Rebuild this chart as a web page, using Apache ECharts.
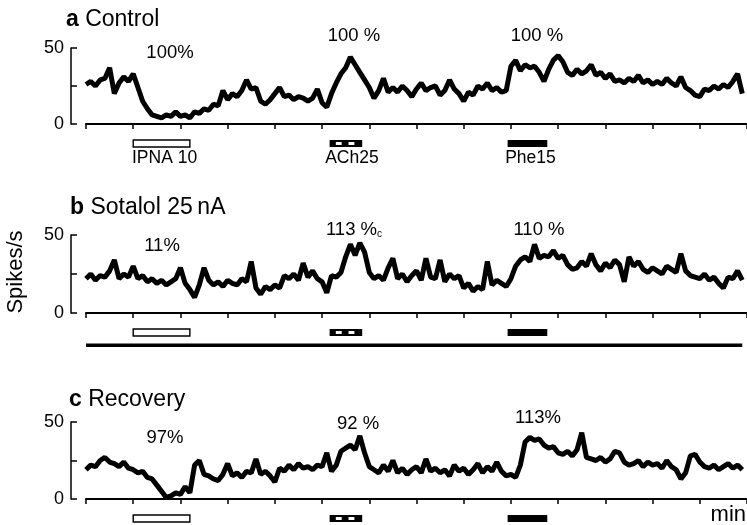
<!DOCTYPE html>
<html>
<head>
<meta charset="utf-8">
<title>Spike rate traces</title>
<script src="https://cdn.jsdelivr.net/npm/echarts@6/dist/echarts.min.js"></script>
<style>
  html, body { margin: 0; padding: 0; background: #fff; }
  #chart { width: 747px; height: 525px; }
</style>
</head>
<body>
<div id="chart"></div>
<script>
// firing rate in spikes/s, one reading every 0.1 min (t = 0 ... 13.9)
const step = 0.1;
const rateControl = [
  26, 28, 25, 29, 30, 37, 20, 27, 31, 28,
  33, 24, 15, 10, 6, 5, 4, 6, 5, 8,
  5, 6, 4, 8, 7, 10, 9, 13, 12, 22,
  16, 20, 18, 22, 29, 23, 24, 15, 13, 16,
  20, 24, 18, 19, 16, 18, 17, 15, 17, 23,
  14, 11, 20, 27, 33, 37, 44, 39, 34, 29,
  24, 17, 22, 30, 21, 24, 21, 25, 22, 18,
  23, 27, 22, 24, 25, 19, 22, 29, 23, 20,
  15, 21, 19, 25, 23, 27, 22, 24, 21, 22,
  38, 42, 35, 39, 37, 38, 34, 28, 36, 42,
  45, 41, 34, 32, 36, 33, 35, 39, 32, 34,
  30, 33, 28, 29, 27, 30, 28, 32, 27, 29,
  26, 28, 26, 30, 27, 25, 31, 24, 22, 19,
  18, 23, 22, 25, 23, 26, 24, 28, 33, 20
];
const rateSotalol = [
  22, 25, 21, 24, 23, 27, 34, 22, 25, 23,
  30, 22, 24, 20, 22, 19, 21, 18, 20, 22,
  29, 19, 15, 10, 18, 29, 21, 18, 20, 17,
  21, 19, 18, 22, 20, 33, 16, 12, 17, 15,
  18, 16, 24, 22, 25, 21, 32, 23, 27, 22,
  20, 13, 24, 23, 26, 36, 44, 37, 45, 39,
  26, 22, 24, 21, 29, 35, 22, 25, 20, 24,
  27, 21, 35, 23, 22, 34, 20, 25, 22, 24,
  16, 19, 14, 17, 15, 33, 18, 21, 19, 17,
  22, 30, 34, 36, 33, 44, 35, 37, 36, 40,
  35, 37, 31, 28, 29, 33, 30, 38, 31, 27,
  32, 29, 34, 31, 20, 36, 30, 33, 28, 26,
  29, 27, 25, 30, 28, 26, 38, 27, 24, 23,
  22, 25, 21, 23, 19, 16, 23, 22, 27, 21
];
const rateRecovery = [
  19, 22, 21, 25, 27, 24, 23, 21, 24, 20,
  19, 17, 18, 14, 13, 9, 5, 1, 2, 4,
  3, 8, 4, 22, 25, 16, 15, 13, 12, 16,
  23, 15, 17, 14, 18, 17, 26, 16, 18, 15,
  11, 20, 18, 22, 19, 23, 20, 21, 19, 22,
  21, 30, 18, 22, 31, 33, 35, 32, 41, 30,
  21, 19, 17, 22, 18, 25, 17, 20, 16, 19,
  21, 17, 26, 18, 20, 17, 19, 15, 22, 18,
  20, 16, 19, 23, 17, 21, 18, 24, 18, 15,
  16, 14, 22, 37, 40, 38, 39, 35, 33, 34,
  30, 29, 31, 28, 32, 43, 27, 26, 25, 27,
  24, 26, 31, 30, 24, 22, 23, 25, 21, 24,
  22, 23, 20, 25, 21, 19, 13, 17, 28, 29,
  24, 21, 20, 22, 19, 21, 23, 20, 22, 19
];

// drug applications, in min
const drugNames = ['IPNA 10', 'ACh25', 'Phe15'];
const drugStart = [1.0, 5.16, 8.93];
const drugEnd = [2.2, 5.85, 9.77];
const sotalolSpan = [0, 13.9];

const panelLetters = ['a', 'b', 'c'];
const panelNames = ['Control', 'Sotalol 25\u2009nA', 'Recovery'];
const responseLabels = [
  ['100%', '100 %', '100 %'],
  ['11%', '113 %{s|c}', '110 %'],
  ['97%', '92 %', '113%']
];

const FONT = '"Liberation Sans", Arial, Helvetica, sans-serif';
const chart = echarts.init(document.getElementById('chart'));

const grids = [
  { left: 86, width: 666, top: 48, height: 76 },
  { left: 86, width: 666, top: 235, height: 78 },
  { left: 86, width: 666, top: 422, height: 77 }
];
const rates = [rateControl, rateSotalol, rateRecovery];
const toPairs = arr => arr.map((v, i) => [Math.round(i * step * 10) / 10, v]);
// small nudge of each drug label off its bar centre (px)
const labelShift = [3, 6, 3];

// drug bars hang under each x axis
function drugBars(withLabels) {
  return function (params, api) {
    const s = api.coord([api.value(0), 0]);
    const e = api.coord([api.value(1), 0]);
    const kind = api.value(2);
    const w = e[0] - s[0];
    const y = s[1] + 16, h = 7;
    const kids = [];
    if (kind === 3) {
      kids.push({ type: 'rect', shape: { x: s[0], y: s[1] + 30.5, width: w, height: 3.5 }, style: { fill: '#000' } });
      return { type: 'group', children: kids };
    }
    if (kind === 0) {
      kids.push({ type: 'rect', shape: { x: s[0], y: y, width: w, height: h }, style: { fill: '#fff', stroke: '#000', lineWidth: 1.4 } });
    } else {
      kids.push({ type: 'rect', shape: { x: s[0], y: y, width: w, height: h }, style: { fill: '#000' } });
      if (kind === 1) {
        [[0.19, 0.37], [0.58, 0.76]].forEach(f => {
          kids.push({ type: 'rect', shape: { x: s[0] + w * f[0], y: y + 2, width: w * (f[1] - f[0]), height: h - 4 }, style: { fill: '#fff' } });
        });
      }
    }
    if (withLabels) {
      kids.push({
        type: 'text',
        x: (s[0] + e[0]) / 2 + labelShift[kind], y: s[1] + 34,
        style: { text: drugNames[kind], fill: '#000', font: '17.5px ' + FONT, align: 'center', verticalAlign: 'middle' }
      });
    }
    return { type: 'group', children: kids };
  };
}

const series = [];
rates.forEach((arr, i) => {
  series.push({
    type: 'line', xAxisIndex: i, yAxisIndex: i,
    data: toPairs(arr),
    showSymbol: false, silent: true, clip: false,
    lineStyle: { color: '#000', width: 5, join: 'bevel' }
  });
  const bars = drugNames.map((n, k) => [drugStart[k], drugEnd[k], k]);
  if (i === 1) bars.push([sotalolSpan[0], sotalolSpan[1], 3]);
  series.push({
    type: 'custom', xAxisIndex: i, yAxisIndex: i,
    renderItem: drugBars(i === 0),
    encode: { x: [0, 1] },
    data: bars, silent: true
  });
});

// text layout
const titleCenters = [[66, 20], [70, 208], [69, 400]];
const responseCenters = [
  [[170, 53], [354, 36], [537, 36]],
  [[162, 246], [354, 230], [539, 230]],
  [[165, 438], [358, 424], [538, 418]]
];
const graphic = [];
panelLetters.forEach((l, i) => {
  graphic.push({
    type: 'text', x: titleCenters[i][0], y: titleCenters[i][1],
    style: {
      text: '{b|' + l + '} ' + panelNames[i],
      font: '23px ' + FONT, fill: '#000', align: 'left', verticalAlign: 'middle',
      rich: { b: { font: 'bold 23px ' + FONT, fill: '#000' } }
    }
  });
  responseLabels[i].forEach((t, k) => {
    graphic.push({
      type: 'text', x: responseCenters[i][k][0], y: responseCenters[i][k][1],
      style: {
        text: t, font: '18.5px ' + FONT, fill: '#000', align: 'center', verticalAlign: 'middle',
        rich: { s: { font: '10px ' + FONT, fill: '#000', verticalAlign: 'bottom', padding: [6, 0, 0, 0] } }
      }
    });
  });
});
graphic.push({
  type: 'text', x: 16, y: 272, rotation: Math.PI / 2,
  style: { text: 'Spikes/s', font: '22px ' + FONT, fill: '#000', align: 'center', verticalAlign: 'middle' }
});
graphic.push({
  type: 'text', x: 746, y: 515,
  style: { text: 'min', font: '22px ' + FONT, fill: '#000', align: 'right', verticalAlign: 'middle' }
});

chart.setOption({
  animation: false,
  backgroundColor: '#fff',
  grid: grids,
  xAxis: grids.map((g, i) => ({
    gridIndex: i, type: 'value', min: 0, max: 14, interval: 1,
    axisLine: { onZero: false, lineStyle: { color: '#000', width: 2 } },
    axisTick: { length: 5, lineStyle: { color: '#000', width: 1.5 } },
    axisLabel: { show: false },
    splitLine: { show: false }
  })),
  yAxis: grids.map((g, i) => ({
    gridIndex: i, type: 'value', min: 0, max: 50, interval: 25, offset: 15,
    axisLine: { show: true, onZero: false, lineStyle: { color: '#000', width: 1.5 } },
    axisTick: { show: true, inside: true, length: 6, lineStyle: { color: '#000', width: 1.5 } },
    axisLabel: {
      color: '#000', fontSize: 18, fontFamily: FONT, margin: 7,
      formatter: v => (v === 25 ? '' : String(v))
    },
    splitLine: { show: false }
  })),
  series: series,
  graphic: graphic
});
</script>
</body>
</html>
